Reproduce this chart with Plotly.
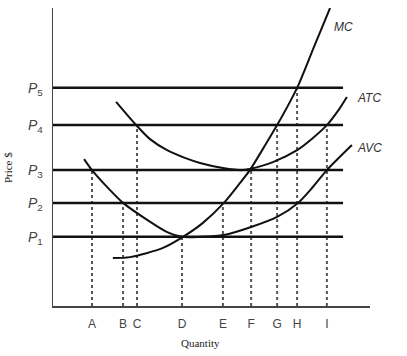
import plotly.graph_objects as go

# ---- data ----
quantity_labels = ["A", "B", "C", "D", "E", "F", "G", "H", "I"]
quantity_values = [1.23, 2.21, 2.65, 4.07, 5.36, 6.25, 7.07, 7.70, 8.64]

price_labels = ["P1", "P2", "P3", "P4", "P5"]
price_values = [2.32, 3.46, 4.56, 6.07, 7.32]

# price level (index into price_values) reached by each dotted guide
guide_levels = [2, 1, 3, 0, 1, 2, 3, 4, 3]

price_line_end = 9.15

mc_q = [1.89, 2.43, 3.47, 4.10, 4.73, 5.39, 5.90, 6.21, 6.66, 7.07, 7.70, 8.23, 8.74]
mc_p = [1.61, 1.64, 1.95, 2.32, 2.79, 3.46, 4.13, 4.56, 5.34, 6.07, 7.32, 8.69, 10.0]

atc_q = [1.99, 2.65, 3.06, 3.60, 4.16, 4.64, 5.36, 5.99, 6.21, 6.94, 7.70, 8.20, 8.64, 9.05, 9.27]
atc_p = [6.85, 6.04, 5.60, 5.23, 4.97, 4.80, 4.63, 4.56, 4.60, 4.83, 5.23, 5.64, 6.07, 6.64, 7.01]

avc_q = [0.98, 1.23, 1.71, 2.21, 2.97, 3.60, 4.07, 4.64, 5.39, 6.25, 7.07, 7.73, 8.17, 8.64, 9.43]
avc_p = [4.93, 4.56, 3.99, 3.46, 2.89, 2.48, 2.32, 2.32, 2.38, 2.65, 2.99, 3.46, 3.96, 4.56, 5.40]

curve_names = ["MC", "ATC", "AVC"]

fig = go.Figure()

# dotted guides
for q, lvl in zip(quantity_values, guide_levels):
    fig.add_trace(go.Scatter(x=[q, q], y=[0, price_values[lvl]], mode="lines",
                             line=dict(color="#555555", width=2, dash="dot"),
                             hoverinfo="skip", showlegend=False))

# horizontal price lines
for p in price_values:
    fig.add_trace(go.Scatter(x=[0, price_line_end], y=[p, p], mode="lines",
                             line=dict(color="#111111", width=2.5),
                             hoverinfo="skip", showlegend=False))

# cost curves
for name, qs, ps in zip(curve_names, [mc_q, atc_q, avc_q], [mc_p, atc_p, avc_p]):
    fig.add_trace(go.Scatter(x=qs, y=ps, mode="lines", name=name,
                             line=dict(color="#111111", width=2, shape="spline", smoothing=0.8),
                             showlegend=False))

annotations = []
label_pos = {"MC": (8.80, 9.36), "ATC": (9.53, 6.98), "AVC": (9.53, 5.30)}
for name in curve_names:
    x, y = label_pos[name]
    annotations.append(dict(x=x, y=y, xref="x", yref="y", text="<i>" + name + "</i>",
                            showarrow=False, xanchor="left", yanchor="middle",
                            font=dict(family="Liberation Sans, Arial", size=12, color="#333333")))

annotations.append(dict(x=0.464, y=-0.124, xref="paper", yref="paper", text="Quantity",
                        showarrow=False, xanchor="center", yanchor="middle",
                        font=dict(family="Liberation Serif, Times New Roman", size=11, color="#222222")))
annotations.append(dict(x=-0.142, y=0.466, xref="paper", yref="paper", text="Price $",
                        showarrow=False, xanchor="center", yanchor="middle", textangle=-90,
                        font=dict(family="Liberation Serif, Times New Roman", size=11, color="#222222")))

fig.update_layout(
    width=407, height=356,
    margin=dict(l=53, r=37, t=8, b=50),
    paper_bgcolor="white", plot_bgcolor="white",
    annotations=annotations,
    showlegend=False,
    hovermode=False,
)

fig.update_xaxes(range=[0, 10], showgrid=False, zeroline=False,
                 showline=True, linecolor="#444444", linewidth=1.5,
                 tickmode="array", tickvals=quantity_values, ticktext=quantity_labels,
                 ticks="outside", ticklen=6, tickcolor="rgba(0,0,0,0)",
                 tickfont=dict(family="Liberation Sans, Arial", size=12, color="#444444"))

fig.update_yaxes(range=[0, 10], showgrid=False, zeroline=False,
                 showline=True, linecolor="#444444", linewidth=1.5,
                 tickmode="array", tickvals=price_values,
                 ticktext=["<i>P</i><sub>" + s[1:] + "</sub>" for s in price_labels],
                 ticks="outside", ticklen=6, tickcolor="rgba(0,0,0,0)",
                 tickfont=dict(family="Liberation Sans, Arial", size=14, color="#444444"))

fig.write_html("out.html",
               config={"displayModeBar": False, "staticPlot": True},
               post_script="document.body.style.margin='0';document.body.style.overflow='hidden';")
